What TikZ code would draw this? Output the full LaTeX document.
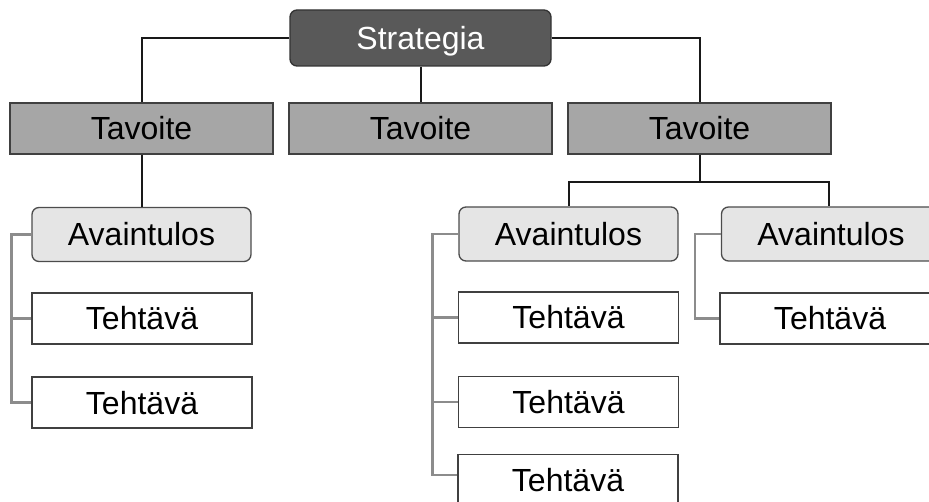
\documentclass[tikz,border=0pt]{standalone}
\usepackage{fontspec}
\setmainfont{Liberation Sans}
\begin{document}
\begin{tikzpicture}[x=1pt,y=-1pt,
  box/.style={draw=black!75, line width=1.3pt, inner sep=0pt,
    text height=23pt, text depth=0pt,
    font=\fontsize{32}{38}\selectfont, align=center},
  strat/.style={box, fill=black!65, draw=black!80, text=white,
    rounded corners=7pt, minimum width=261pt, minimum height=56pt},
  goal/.style={box, fill=black!35, minimum width=263pt, minimum height=51pt},
  result/.style={box, fill=black!10, draw=black!70, rounded corners=7pt,
    minimum width=219pt, minimum height=54pt},
  task/.style={box, fill=white, minimum width=220pt, minimum height=51pt},
  link/.style={draw=black!90, line width=2pt},
  sublink/.style={draw=black!45, line width=2.4pt}]
  \path[use as bounding box, clip] (0,0) rectangle (929,502);

  % top level
  \node[strat] (S) at (420.5,38) {Strategia};

  % goals
  \node[goal] (G1) at (141.5,128.5) {Tavoite};
  \node[goal] (G2) at (420.5,128.5) {Tavoite};
  \node[goal] (G3) at (699.5,128.5) {Tavoite};

  % key results
  \node[result] (R1) at (141.5,234.5) {Avaintulos};
  \node[result] (R2) at (568.5,234) {Avaintulos};
  \node[result] (R3) at (831,234) {Avaintulos};

  % tasks
  \node[task] (K11) at (142,318.5) {Tehtävä};
  \node[task] (K12) at (142,402.5) {Tehtävä};
  \node[task] (K21) at (568.5,317.5) {Tehtävä};
  \node[task] (K22) at (568.5,402) {Tehtävä};
  \node[task] (K23) at (568,480) {Tehtävä};
  \node[task] (K31) at (830,318.5) {Tehtävä};

  % strategy to goals
  \draw[link] (S.west) -| (G1.north);
  \draw[link] (S.south) -- (G2.north);
  \draw[link] (S.east) -| (G3.north);

  % goals to key results
  \draw[link] (G1.south) -- (R1.north);
  \draw[link] (G3.south) -- ++(0,27) coordinate (B3);
  \draw[link] (B3) -| (R2.north);
  \draw[link] (B3) -| ([xshift=-2pt]R3.north);

  % key results to tasks
  \draw[sublink] (R1.west) -- ++(-20,0) |- (K11.west);
  \draw[sublink] (R1.west) -- ++(-20,0) |- (K12.west);
  \draw[sublink] (R2.west) -- ++(-26,0) |- (K21.west);
  \draw[sublink] (R2.west) -- ++(-26,0) |- (K22.west);
  \draw[sublink] (R2.west) -- ++(-26,0) |- ([yshift=5pt]K23.west);
  \draw[sublink] (R3.west) -- ++(-26,0) |- (K31.west);
\end{tikzpicture}
\end{document}
